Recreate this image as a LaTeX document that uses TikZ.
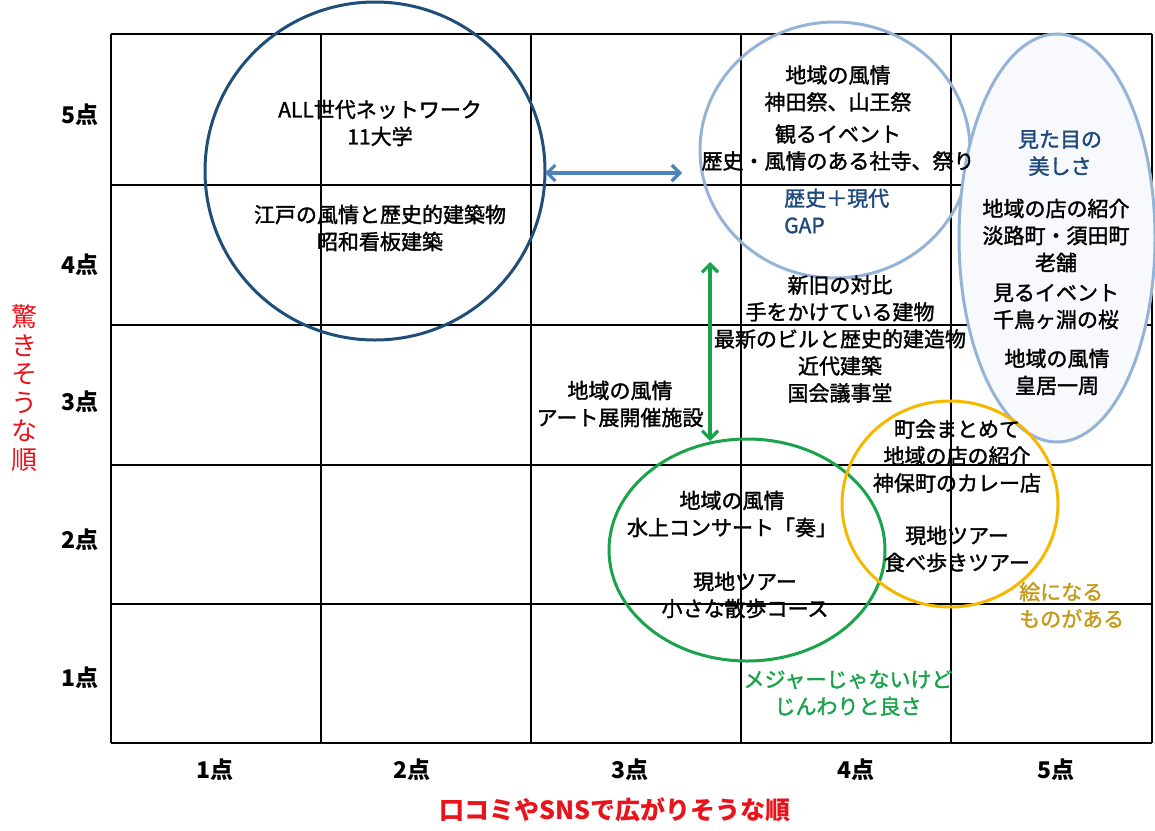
\documentclass[tikz,border=0pt]{standalone}
\usepackage{fontspec}
\setmainfont{Noto Sans CJK JP}
\newfontfamily\bodyjp[FakeBold=1.6]{Noto Sans CJK JP}
\usetikzlibrary{positioning,arrows.meta}

\definecolor{navyline}{HTML}{1F4E79}
\definecolor{paleblue}{HTML}{95B3D7}
\definecolor{arrowblue}{HTML}{4F81BD}
\definecolor{textblue}{HTML}{1F497D}
\definecolor{ringgreen}{HTML}{1AA34A}
\definecolor{ringgold}{HTML}{F5B800}
\definecolor{textgold}{HTML}{C49A1C}
\definecolor{axisred}{HTML}{E8141C}
\definecolor{ellfill}{HTML}{F7F9FC}

\tikzset{
  txt/.style={align=center, inner sep=0pt, font=\bodyjp\fontsize{21}{27}\selectfont},
  tick/.style={inner sep=0pt, font=\bfseries\fontsize{23}{27}\selectfont},
  axistitle/.style={inner sep=0pt, text=axisred, font=\bfseries\fontsize{25}{28}\selectfont},
  ring/.style={line width=3pt},
  dbl/.style={line width=3.2pt, {Straight Barb[length=8pt,width=16pt]}-{Straight Barb[length=8pt,width=16pt]}},
}

\begin{document}
\begin{tikzpicture}[x=1pt, y=-1pt]
\useasboundingbox (0,0) rectangle (1155,830);

% grid
\foreach \gx in {111,321,531,741,951,1152}
  \draw[line width=1.8pt] (\gx,34) -- (\gx,743);
\foreach \gy in {34,185,325,465,604,743}
  \draw[line width=1.8pt] (111,\gy) -- (1152,\gy);

% circles
\draw[ring, navyline] (375,171) ellipse [x radius=170, y radius=169];
\draw[ring, paleblue] (835,150) ellipse [x radius=135, y radius=128];
\draw[ring, paleblue, fill=ellfill] (1057,238) ellipse [x radius=98, y radius=204];
\draw[ring, ringgreen] (747,550) ellipse [x radius=138, y radius=111];
\draw[ring, ringgold] (950,504) ellipse [x radius=108, y radius=103];

% axis ticks
\node[tick] (y5) at (80,115) {5点};
\node[tick] (y4) at (80,265) {4点};
\node[tick] (y3) at (80,402) {3点};
\node[tick] (y2) at (80,540) {2点};
\node[tick] (y1) at (80,678) {1点};

\node[tick] (x1) at (215,770) {1点};
\node[tick] (x2) at (412,770) {2点};
\node[tick] (x3) at (630,770) {3点};
\node[tick] (x4) at (856,770) {4点};
\node[tick] (x5) at (1056,770) {5点};

\node[axistitle] (xtitle) at (615,810) {口コミやSNSで広がりそうな順};
\node[axistitle, align=center, font=\fontsize{26}{28.5}\selectfont] (ytitle) at (25,388) {驚\\き\\そ\\う\\な\\順};

% dark blue ring
\node[txt] (allgen) at (380,123) {ALL世代ネットワーク\\11大学};
\node[txt] (edo) at (380,228) {江戸の風情と歴史的建築物\\昭和看板建築};

% pale blue ring
\node[txt] (kanda) at (838,118) {地域の風情\\神田祭、山王祭\\[5pt]観るイベント\\歴史・風情のある社寺、祭り};
\node[txt, anchor=west, align=left, text=textblue] (gap) at (784,211) {歴史＋現代\\GAP};
\node[txt] (shinkyu) at (840,339) {新旧の対比\\手をかけている建物\\最新のビルと歴史的建造物\\近代建築\\国会議事堂};

% right ellipse
\node[txt, text=textblue] (mitame) at (1060,153) {見た目の\\美しさ};
\node[txt] (awaji) at (1056,264) {地域の店の紹介\\淡路町・須田町\\老舗\\[3pt]見るイベント\\千鳥ヶ淵の桜};
\node[txt] (kokyo) at (1057,372) {地域の風情\\皇居一周};

% arrows
\draw[dbl, arrowblue] (545,173) -- (682,173);
\draw[dbl, ringgreen] (710,262) -- (710,441);

\node[txt] (art) at (620,404) {地域の風情\\アート展開催施設};

% green ring
\node[txt] (suijo) at (732,514) {地域の風情\\水上コンサート「奏」};
\node[txt] (sanpo) at (745,595) {現地ツアー\\小さな散歩コース};
\node[txt, text=ringgreen] (major) at (848,693) {メジャーじゃないけど\\じんわりと良さ};

% gold ring
\node[txt] (chokai) at (957,456) {町会まとめて\\地域の店の紹介\\神保町のカレー店};
\node[txt] (tabe) at (957,549) {現地ツアー\\食べ歩きツアー};
\node[txt, anchor=west, align=left, text=textgold] (eni) at (1019,605) {絵になる\\ものがある};
\end{tikzpicture}
\end{document}
